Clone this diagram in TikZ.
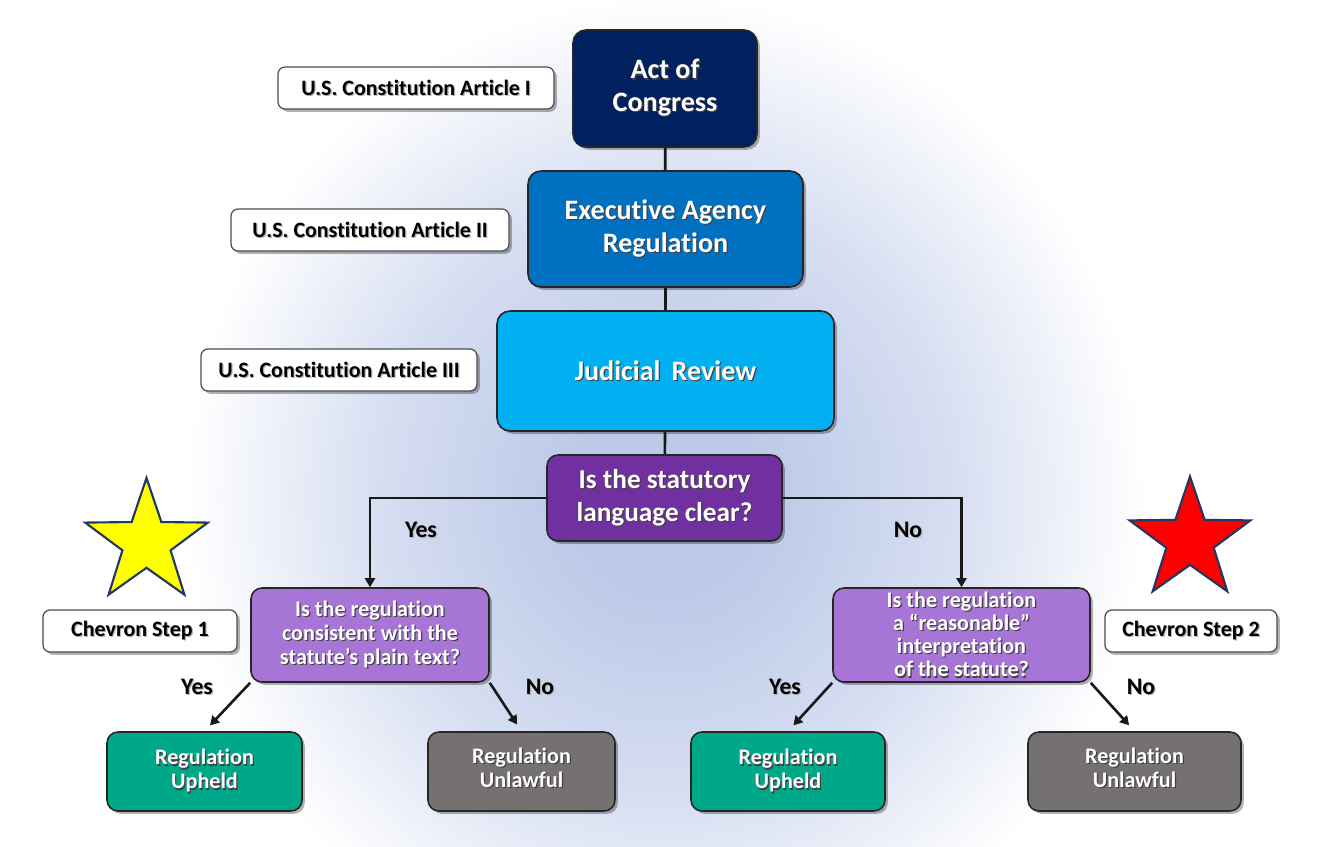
\documentclass[tikz,border=0pt]{standalone}
\usepackage{fontspec}
\setmainfont{Carlito}[Ligatures=NoCommon]
\usetikzlibrary{shapes.geometric,arrows.meta,shadows}
\newdimen\px \px=0.02cm
\definecolor{cnavy}{HTML}{002060}
\definecolor{cagency}{HTML}{0070C0}
\definecolor{cjudicial}{HTML}{00B0F0}
\definecolor{cdeeppurple}{HTML}{7030A0}
\definecolor{clightpurple}{HTML}{A775D6}
\definecolor{cteal}{HTML}{00A88A}
\definecolor{cslate}{HTML}{767171}
\definecolor{cbgblue}{HTML}{BCC9E8}
\definecolor{cbgmid}{HTML}{D6DEF1}
\definecolor{cstarborder}{HTML}{1F3864}
\definecolor{cyellowstar}{HTML}{FFFF00}
\definecolor{credstar}{HTML}{FF0000}
\pgfdeclareradialshading{bgshade}{\pgfpoint{0bp}{0bp}}{color(0bp)=(cbgblue); color(5bp)=(cbgblue); color(15bp)=(cbgmid); color(25bp)=(white); color(50bp)=(white)}
\newcommand\sht[2][black!75]{\leavevmode\rlap{\kern0.7pt\raisebox{-0.7pt}{\textcolor{#1}{#2}}}#2}
\tikzset{
  boxshadow/.style={drop shadow={shadow xshift=1.6pt, shadow yshift=-1.6pt, opacity=0.3, fill=black}},
  flowbox/.style={draw=black!85, line width=0.9pt, rounded corners=13\px, inner sep=0pt,
    text=white, align=center, boxshadow},
  bigfont/.style={font=\bfseries\fontsize{16}{18.7}\selectfont},
  smallfont/.style={font=\bfseries\fontsize{12.6}{13.6}\selectfont},
  tag/.style={draw=black!70, line width=0.7pt, fill=white, rounded corners=7\px, inner sep=0pt,
    minimum height=42\px, font=\bfseries\fontsize{12.5}{14}\selectfont, boxshadow},
  answer/.style={font=\bfseries\fontsize{13.5}{16}\selectfont, inner sep=0pt},
  conn/.style={line width=1.5pt, black!90},
  arrowconn/.style={conn, -{Triangle[length=0.18cm, width=0.2cm]}},
  starshape/.style={star, star points=5, star point ratio=2.55, inner sep=0pt,
    draw=cstarborder, line width=1.2pt}
}
\begin{document}
\begin{tikzpicture}[x=0.02cm, y=-0.02cm]
\useasboundingbox (0,0) rectangle (1322,846);
\fill[white] (0,0) rectangle (1322,846);
\shade[shading=bgshade] (665,495) ellipse [x radius=9.6cm, y radius=10cm];

% main chain
\node[flowbox, bigfont, fill=cnavy, minimum width=184\px, minimum height=117\px] (act) at (665,88.5)
  {\sht{Act of}\\\sht{Congress}};
\node[flowbox, bigfont, fill=cagency, minimum width=275\px, minimum height=116\px] (exec) at (665.5,229)
  {\sht{Executive Agency}\\\sht{Regulation}};
\node[flowbox, bigfont, fill=cjudicial, minimum width=337\px, minimum height=120\px] (judicial) at (665.5,371)
  {\sht{Judicial\ \,Review}};
\node[flowbox, font=\bfseries\fontsize{15.5}{18.7}\selectfont, fill=cdeeppurple, rounded corners=11\px,
  minimum width=235\px, minimum height=86\px] (stat) at (664.5,498)
  {\sht{Is the statutory}\\\sht{language clear?}};

% questions
\node[flowbox, smallfont, fill=clightpurple, rounded corners=11\px, minimum width=238\px, minimum height=94\px] (q1) at (370,635)
  {\sht{Is the regulation}\\\sht{consistent with the}\\\sht{statute’s plain text?}};
\node[flowbox, font=\bfseries\fontsize{12.6}{13.2}\selectfont, fill=clightpurple, rounded corners=11\px, minimum width=257\px, minimum height=94\px] (q2) at (961.5,635)
  {\sht{Is the regulation}\\\sht{a “reasonable”}\\\sht{interpretation}\\\sht{of the statute?}};

% outcomes
\node[flowbox, smallfont, fill=cteal, rounded corners=11\px, minimum width=195\px, minimum height=79\px] (u1) at (204.5,771.5)
  {\sht{Regulation}\\\sht{Upheld}};
\node[flowbox, smallfont, fill=cslate, rounded corners=11\px, minimum width=187\px, minimum height=79\px] (l1) at (521.5,771.5)
  {\sht{Regulation}\\\sht{Unlawful}\strut};
\node[flowbox, smallfont, fill=cteal, rounded corners=11\px, minimum width=194\px, minimum height=79\px] (u2) at (788,771.5)
  {\sht{Regulation}\\\sht{Upheld}};
\node[flowbox, smallfont, fill=cslate, rounded corners=11\px, minimum width=213\px, minimum height=79\px] (l2) at (1134.5,771.5)
  {\sht{Regulation}\\\sht{Unlawful}\strut};

% tags
\node[tag, minimum width=276\px] (art1) at (416,88) {\sht[black!30]{U.S. Constitution Article I}};
\node[tag, minimum width=278\px] (art2) at (370,230) {\sht[black!30]{U.S. Constitution Article II}};
\node[tag, minimum width=276\px] (art3) at (339,370) {\sht[black!30]{U.S. Constitution Article III}};
\node[tag, minimum width=194\px] (chev1) at (140,631) {\sht[black!30]{Chevron Step 1}};
\node[tag, minimum width=172\px] (chev2) at (1191,631) {\sht[black!30]{Chevron Step 2}};

% stars
\node[starshape, fill=cyellowstar, minimum size=129\px] (star1) at (146.5,542.5) {};
\node[starshape, fill=credstar, minimum size=127\px] (star2) at (1190,540) {};

% connectors
\draw[conn] (act) -- (exec);
\draw[conn] (exec) -- (judicial);
\draw[conn] (judicial) -- (stat);
\draw[arrowconn] (stat.west) -| (q1.north);
\draw[arrowconn] (stat.east) -| (q2.north);
\draw[arrowconn, shorten >=0.16cm] (q1.south west) -- (u1.north);
\draw[arrowconn, shorten >=0.16cm] (q1.south east) -- (l1.north);
\draw[arrowconn, shorten >=0.16cm] (q2.south west) -- (u2.north);
\draw[arrowconn, shorten >=0.16cm] (q2.south east) -- (l2.north);

% answers
\node[answer] (yes0) at (421,530) {\sht[black!30]{Yes}};
\node[answer] (no0) at (908,530) {\sht[black!30]{No}};
\node[answer] (yes1) at (197,687) {\sht[black!30]{Yes}};
\node[answer] (no1) at (540,687) {\sht[black!30]{No}};
\node[answer] (yes2) at (785,687) {\sht[black!30]{Yes}};
\node[answer] (no2) at (1141,687) {\sht[black!30]{No}};
\end{tikzpicture}
\end{document}
